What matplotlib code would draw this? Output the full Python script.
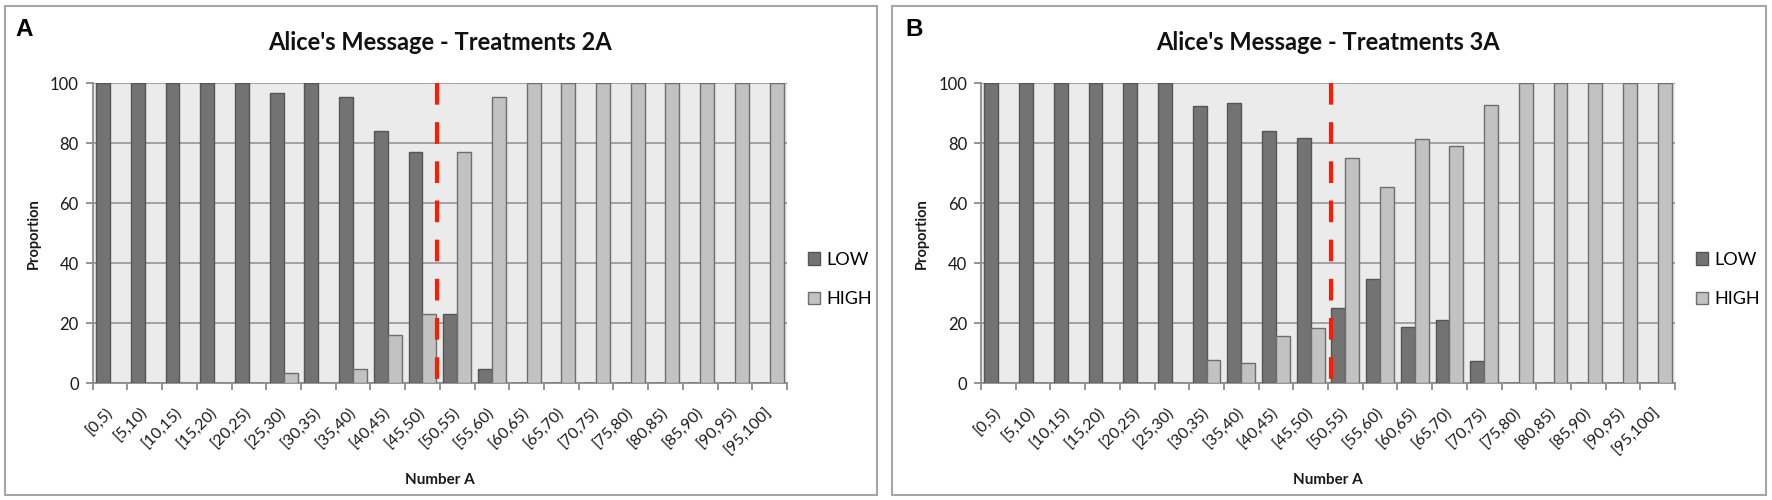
import matplotlib
matplotlib.use('Agg')
import matplotlib.pyplot as plt
from matplotlib.patches import Rectangle
import numpy as np

bins = ['[0,5)', '[5,10)', '[10,15)', '[15,20)', '[20,25)', '[25,30)', '[30,35)',
        '[35,40)', '[40,45)', '[45,50)', '[50,55)', '[55,60)', '[60,65)', '[65,70)',
        '[70,75)', '[75,80)', '[80,85)', '[85,90)', '[90,95)', '[95,100]']

low_2a = [100, 100, 100, 100, 100, 96.7, 100, 95.2, 84, 77, 23, 4.8,
          0, 0, 0, 0, 0, 0, 0, 0]
high_2a = [0, 0, 0, 0, 0, 3.3, 0, 4.8, 16, 23, 77, 95.2,
           100, 100, 100, 100, 100, 100, 100, 100]

low_3a = [100, 100, 100, 100, 100, 100, 92.2, 93.2, 84.1, 81.6, 25, 34.6,
          18.6, 21, 7.4, 0, 0, 0, 0, 0]
high_3a = [0, 0, 0, 0, 0, 0, 7.8, 6.8, 15.9, 18.4, 75, 65.4,
           81.4, 79, 92.6, 100, 100, 100, 100, 100]

panels = ['A', 'B']
titles = ["Alice's Message - Treatments 2A", "Alice's Message - Treatments 3A"]
cutoffs = [9.43, 9.6]  # red threshold line, just around the 50 boundary

LOW_C = '#737373'
HIGH_C = '#c2c2c2'
GRID_C = '#9c9c9c'
FONT = 'Lato'

plt.rcParams['font.family'] = [FONT, 'DejaVu Sans']

W, H = 1772, 500
fig = plt.figure(figsize=(W / 100, H / 100), dpi=100)


def px(x0, y0, x1, y1):
    # pixel box (top-left origin) -> figure fraction rect
    return [x0 / W, 1 - y1 / H, (x1 - x0) / W, (y1 - y0) / H]


# panel frames
for bx0, bx1 in [(5, 877), (892, 1766)]:
    fig.patches.append(Rectangle((bx0 / W, 5 / H), (bx1 - bx0) / W, 489 / H,
                                 transform=fig.transFigure, fill=False,
                                 edgecolor='#a6a6a6', linewidth=1.5))

axes_px = [(92.7, 83, 787, 383.3), (981, 83, 1675, 383.3)]
series = [(low_2a, high_2a), (low_3a, high_3a)]

x = np.arange(len(bins))
for k, ax_box in enumerate(axes_px):
    ax = fig.add_axes(px(*ax_box))
    ax.set_facecolor('#ebebeb')
    low, high = series[k]
    ax.bar(x - 0.2, low, width=0.4, color=LOW_C, edgecolor='#555555',
           linewidth=1.0, label='LOW', zorder=3)
    ax.bar(x + 0.2, high, width=0.4, color=HIGH_C, edgecolor='#6e6e6e',
           linewidth=1.0, label='HIGH', zorder=3)

    ax.set_xlim(-0.5, len(bins) - 0.5)
    ax.set_ylim(0, 100)
    ax.set_yticks([0, 20, 40, 60, 80, 100])
    ax.yaxis.grid(True, color=GRID_C, linewidth=1.3, zorder=0)
    ax.set_axisbelow(True)
    for s in ['top', 'right']:
        ax.spines[s].set_visible(False)
    for s in ['left', 'bottom']:
        ax.spines[s].set_color('#8c8c8c')
        ax.spines[s].set_linewidth(1.3)

    ax.set_xticks(x)
    ax.set_xticklabels(bins, rotation=45, ha='right', va='center',
                       rotation_mode='anchor', fontsize=11.5, color='#1a1a1a')
    ax.tick_params(axis='x', which='major', length=0, pad=19)
    ax.set_xticks(np.arange(-0.5, len(bins)), minor=True)
    ax.tick_params(axis='x', which='minor', length=5, color='#8c8c8c', width=1.3)
    ax.tick_params(axis='y', length=5, color='#8c8c8c', width=1.3,
                   labelsize=12, labelcolor='#1a1a1a', pad=5)

    ax.plot([cutoffs[k], cutoffs[k]], [100, -2.3], color='#ff1a00', linewidth=3,
            dashes=(5.2, 4.2), clip_on=False, zorder=5)

    ax.set_xlabel('Number A', fontsize=11, fontweight='bold', color='#1a1a1a')
    ax.xaxis.set_label_coords(0.5, -0.3)
    ax.set_ylabel('Proportion', fontsize=10.5, fontweight='bold', color='#1a1a1a')
    ax.yaxis.set_label_coords(-0.075, 0.5)

    leg = ax.legend(loc='center left', bbox_to_anchor=(1.03, 0.345), frameon=False,
                    fontsize=13, handlelength=0.7, handleheight=0.7,
                    handletextpad=0.35, labelspacing=1.3, borderaxespad=0,
                    borderpad=0)

    cx = (ax_box[0] + ax_box[2]) / 2
    fig.text(cx / W, 1 - 43 / H, titles[k], ha='center', va='center',
             fontsize=17, fontweight='bold', color='#111111')

fig.text(15 / W, 1 - 30 / H, 'A', fontsize=17.5, fontweight='bold', va='center',
         family=['Liberation Sans', 'DejaVu Sans'])
fig.text(905 / W, 1 - 30 / H, 'B', fontsize=17.5, fontweight='bold', va='center',
         family=['Liberation Sans', 'DejaVu Sans'])

fig.savefig('out.png', dpi=100, facecolor='white')
